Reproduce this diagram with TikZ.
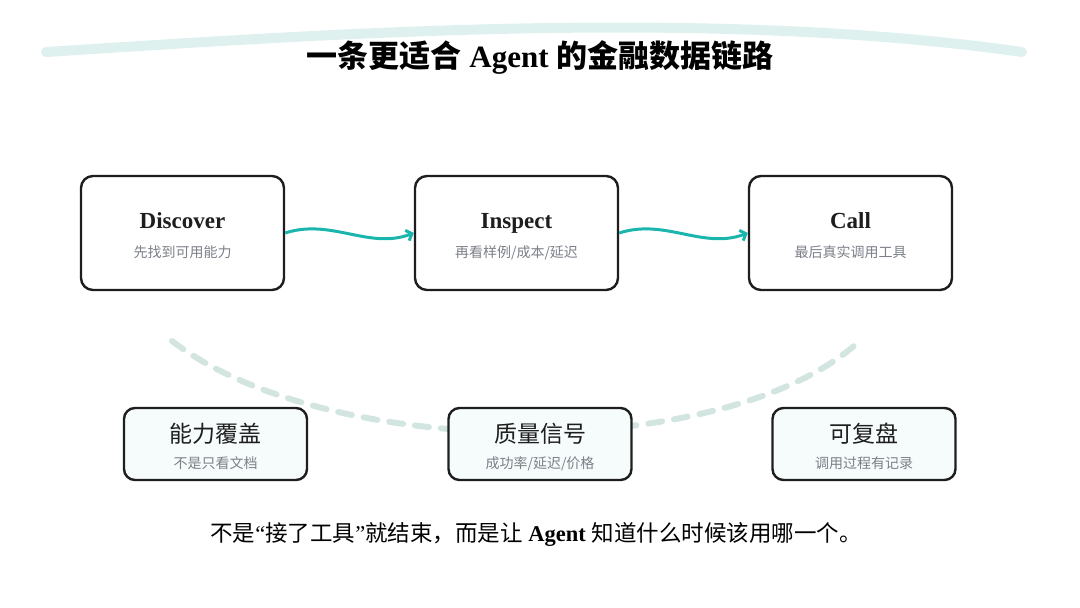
\documentclass[tikz,border=0pt]{standalone}
\usepackage{fontspec}
\setmainfont{Liberation Serif}
\newfontfamily\cjk{Noto Sans CJK SC}
\usepackage{tikz}
\usetikzlibrary{arrows.meta}

\definecolor{tealline}{HTML}{1AB5AC}
\definecolor{swoosh}{HTML}{DFF1EF}
\definecolor{dashc}{HTML}{D3E5E1}
\definecolor{boxline}{HTML}{1E1E1E}
\definecolor{subgray}{HTML}{7C8088}
\definecolor{lightfill}{HTML}{F6FBFB}

\begin{document}
\begin{tikzpicture}[x=1pt,y=-1pt,
  bigbox/.style={draw=boxline,line width=2.4pt,rounded corners=12pt,fill=white,minimum width=203pt,minimum height=114pt},
  smallbox/.style={draw=boxline,line width=2.4pt,rounded corners=11pt,fill=lightfill,minimum width=183pt,minimum height=72pt},
  ttl/.style={anchor=base,font=\fontsize{23}{27}\selectfont\bfseries,text=boxline},
  cttl/.style={anchor=base,font=\cjk\fontsize{23}{27}\selectfont,text=boxline},
  sub/.style={anchor=base,font=\cjk\fontsize{14}{17}\selectfont,text=subgray},
  wave/.style={draw=tealline,line width=3pt,-{Straight Barb[length=5pt,width=11pt,line width=3pt]}}]
\useasboundingbox (0,0) rectangle (1080,608);

% top swoosh and title
\draw[swoosh,line width=10pt,line cap=round] (46,52) .. controls (300,36) and (700,6) .. (1022,52);
\node (title) at (540,57) {\fontsize{31}{36}\selectfont{\cjk\bfseries 一条更适合} \textbf{Agent} {\cjk\bfseries 的金融数据链路}};

% dashed arc behind lower boxes
\draw[dashc,line width=6pt,line cap=round,dash pattern=on 14pt off 12pt] (172,341) .. controls (330,462) and (720,462) .. (855,345);

% flow
\node[bigbox] (disc) at (182.5,233) {};
\node[bigbox] (insp) at (516.5,233) {};
\node[bigbox] (call) at (850.5,233) {};
\node[ttl] (disct) at ([yshift=5pt]disc.center) {Discover};
\node[sub] (discs) at ([yshift=-24pt]disc.center) {先找到可用能力};
\node[ttl] (inspt) at ([yshift=5pt]insp.center) {Inspect};
\node[sub] (insps) at ([yshift=-24pt]insp.center) {再看样例/成本/延迟};
\node[ttl] (callt) at ([yshift=5pt]call.center) {Call};
\node[sub] (calls) at ([yshift=-24pt]call.center) {最后真实调用工具};

\draw[wave] (disc.east) .. controls ([xshift=46pt,yshift=15pt]disc.east) and ([xshift=-45pt,yshift=-17pt]insp.west) .. (insp.west);
\draw[wave] (insp.east) .. controls ([xshift=46pt,yshift=15pt]insp.east) and ([xshift=-45pt,yshift=-17pt]call.west) .. (call.west);

% qualities
\node[smallbox] (cover) at (215.5,444) {};
\node[smallbox] (signal) at (540,444) {};
\node[smallbox] (replay) at (864,444) {};
\node[cttl] (covert) at ([yshift=2pt]cover.center) {能力覆盖};
\node[sub] (covers) at ([yshift=-24pt]cover.center) {不是只看文档};
\node[cttl] (signalt) at ([yshift=2pt]signal.center) {质量信号};
\node[sub] (signals) at ([yshift=-24pt]signal.center) {成功率/延迟/价格};
\node[cttl] (replayt) at ([yshift=2pt]replay.center) {可复盘};
\node[sub] (replays) at ([yshift=-24pt]replay.center) {调用过程有记录};

% bottom line
\node (note) at (536,534) {\fontsize{22.5}{26}\selectfont{\cjk 不是}“{\cjk 接了工具}”{\cjk 就结束，而是让} \textbf{Agent} {\cjk 知道什么时候该用哪一个。}};
\end{tikzpicture}
\end{document}
